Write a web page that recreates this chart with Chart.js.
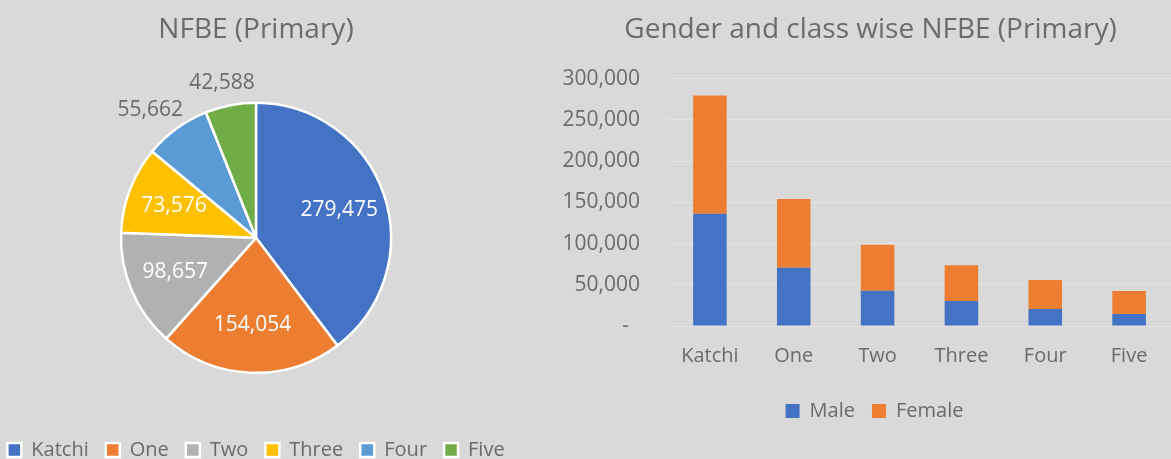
<!DOCTYPE html>
<html>
<head>
<meta charset="utf-8">
<script src="https://cdn.jsdelivr.net/npm/chart.js@4"></script>
<style>
  html, body { margin: 0; padding: 0; width: 1171px; height: 459px; overflow: hidden; background: #d9d9d9; }
  #wrapL { position: absolute; left: -30px; top: 0; width: 572px; height: 470px; }
  #wrapR { position: absolute; left: 545px; top: 0; width: 626px; height: 459px; }
</style>
</head>
<body>
<div id="wrapL"><canvas id="pie"></canvas></div>
<div id="wrapR"><canvas id="bar"></canvas></div>
<script>
// ---- data ----
const categories = ['Katchi', 'One', 'Two', 'Three', 'Four', 'Five'];
const pieValues = [279475, 154054, 98657, 73576, 55662, 42588];
const maleValues = [136200, 70500, 42600, 30400, 20700, 14600];
const femaleValues = [143275, 83554, 56057, 43176, 34962, 27988];
const yTicks = [0, 50000, 100000, 150000, 200000, 250000, 300000];
const pieTitle = 'NFBE (Primary)';
const barTitle = 'Gender and class wise NFBE (Primary)';
const seriesNames = ['Male', 'Female'];

// ---- style ----
const FONT = 'Open Sans';
const TXT = '#6b6b6b';
const pieColors = ['#4472C4', '#ED7D31', '#B0B1B2', '#FFC000', '#5B9BD5', '#70AD47'];
const fmt = v => v.toLocaleString('en-US');

const pieLabelPlugin = {
  id: 'pieLabels',
  afterDatasetsDraw(chart) {
    const ctx = chart.ctx;
    const meta = chart.getDatasetMeta(0);
    const data = chart.data.datasets[0].data;
    const total = data.reduce((a, b) => a + b, 0);
    ctx.save();
    ctx.font = '21px "' + FONT + '"';
    ctx.textAlign = 'center';
    ctx.textBaseline = 'middle';
    meta.data.forEach((arc, i) => {
      const p = arc.getProps(['x', 'y', 'startAngle', 'endAngle', 'outerRadius'], true);
      const mid = (p.startAngle + p.endAngle) / 2;
      const dx = Math.cos(mid), dy = Math.sin(mid);
      const txt = fmt(data[i]);
      let x, y;
      if (data[i] / total > 0.09) {
        const r = p.outerRadius * 0.65;
        x = p.x + dx * r; y = p.y + dy * r;
        ctx.fillStyle = '#ffffff';
      } else {
        const w = ctx.measureText(txt).width;
        const r = p.outerRadius + 12;
        x = p.x + dx * r + dx * w / 2;
        y = p.y + dy * r + dy * 11;
        ctx.fillStyle = TXT;
      }
      ctx.fillText(txt, x, y);
    });
    ctx.restore();
  }
};

// centre title and legend of the bar chart over the area right of the axis labels
const shiftBoxes = {
  id: 'shiftBoxes',
  afterLayout(chart) {
    if (chart.titleBlock) chart.titleBlock.left += 25;
    if (chart.legend) chart.legend.left += 33;
  }
};

new Chart(document.getElementById('pie'), {
  type: 'pie',
  data: {
    labels: categories,
    datasets: [{
      data: pieValues,
      backgroundColor: pieColors,
      borderColor: '#ffffff',
      borderWidth: 2.5,
      radius: 135
    }]
  },
  options: {
    responsive: true,
    maintainAspectRatio: false,
    animation: false,
    layout: { padding: 0 },
    plugins: {
      title: {
        display: true, text: pieTitle, color: TXT,
        font: { family: FONT, size: 28, weight: 'normal' },
        padding: { top: 13, bottom: 6 }
      },
      legend: {
        display: true, position: 'bottom', align: 'center',
        labels: {
          color: TXT, boxWidth: 14, boxHeight: 14, padding: 17,
          font: { family: FONT, size: 20 }
        }
      },
      tooltip: { enabled: false }
    }
  },
  plugins: [pieLabelPlugin]
});

new Chart(document.getElementById('bar'), {
  type: 'bar',
  data: {
    labels: categories,
    datasets: [
      { label: seriesNames[0], data: maleValues, backgroundColor: '#4472C4' },
      { label: seriesNames[1], data: femaleValues, backgroundColor: '#ED7D31' }
    ]
  },
  options: {
    responsive: true,
    maintainAspectRatio: false,
    animation: false,
    layout: { padding: { left: 0, right: 0, top: 0, bottom: 28 } },
    datasets: { bar: { categoryPercentage: 1, barPercentage: 0.4 } },
    scales: {
      x: {
        stacked: true,
        grid: { display: false, drawTicks: false },
        border: { display: false },
        ticks: { color: TXT, padding: 18, font: { family: FONT, size: 20 } },
        afterFit(s) { s.height = 58; }
      },
      y: {
        stacked: true,
        min: 0, max: 300000,
        afterBuildTicks(s) { s.ticks = yTicks.map(v => ({ value: v })); },
        grid: { color: '#e4e4e4', lineWidth: 1, drawTicks: false },
        border: { display: false },
        ticks: {
          color: TXT, padding: 28, font: { family: FONT, size: 21 },
          callback: v => v === 0 ? '-  ' : fmt(v)
        },
        afterFit(s) { s.width = 123; }
      }
    },
    plugins: {
      title: {
        display: true, text: barTitle, color: TXT,
        font: { family: FONT, size: 28, weight: 'normal' },
        padding: { top: 13, bottom: 32 }
      },
      legend: {
        display: true, position: 'bottom', align: 'center',
        labels: {
          color: TXT, boxWidth: 14, boxHeight: 14, padding: 17,
          font: { family: FONT, size: 20 }
        }
      },
      tooltip: { enabled: false }
    }
  },
  plugins: [shiftBoxes]
});
</script>
</body>
</html>
